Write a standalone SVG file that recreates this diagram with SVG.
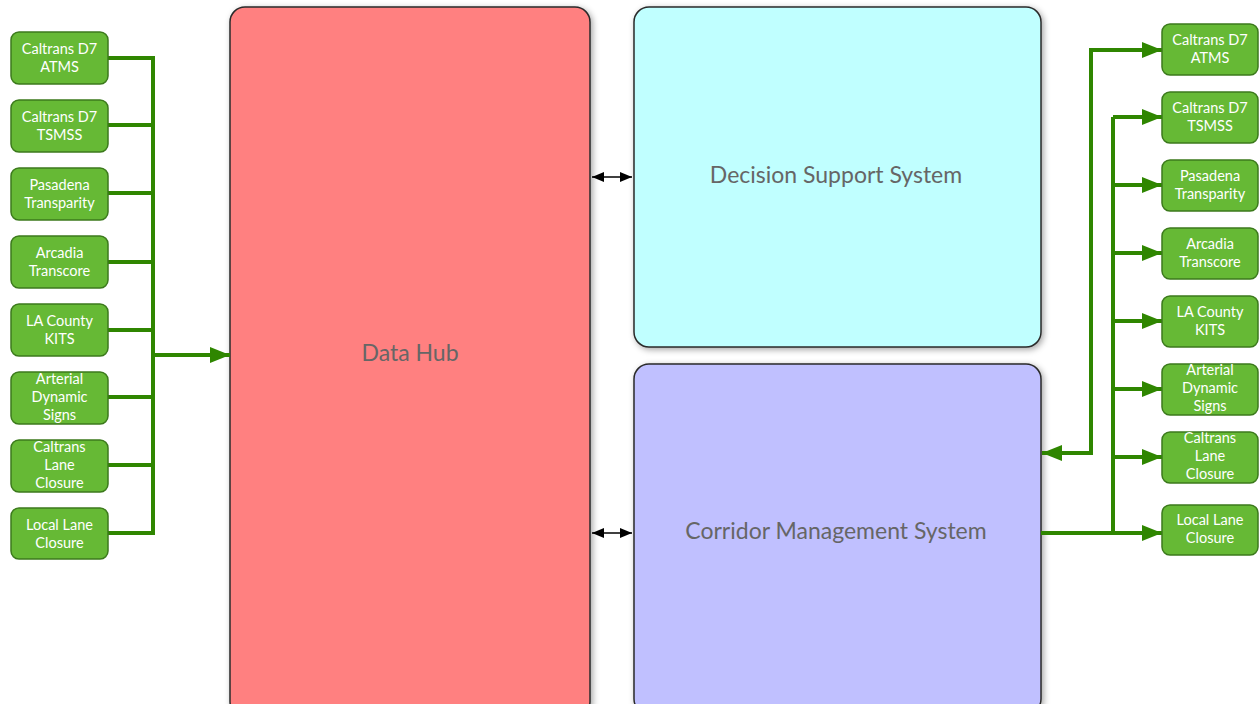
<svg xmlns="http://www.w3.org/2000/svg" width="1259" height="704" viewBox="0 0 1259 704">
  <defs>
    <filter id="shadow" x="-10%" y="-10%" width="120%" height="120%">
      <feDropShadow dx="2" dy="2" stdDeviation="3" flood-color="#000" flood-opacity="0.35"/>
    </filter>
    <marker id="greenHead" markerWidth="20" markerHeight="16" refX="20" refY="8" orient="auto" markerUnits="userSpaceOnUse">
      <path d="M0,0 L20,8 L0,16 z" fill="#2f8600"/>
    </marker>
    <marker id="blackHead" markerWidth="12" markerHeight="10" refX="12" refY="5" orient="auto-start-reverse" markerUnits="userSpaceOnUse">
      <path d="M0,0 L12,5 L0,10 z" fill="#000"/>
    </marker>
    <style>
      .big { stroke: #2a2a2a; stroke-width: 1.5; filter: url(#shadow); }
      .bigText { font-family: "Lato", "Open Sans", sans-serif; font-size: 23px; fill: #666; text-anchor: middle; dominant-baseline: middle; }
      .src rect { fill: #66b935; stroke: #3c7a1c; stroke-width: 1.5; }
      .src text { font-family: "Lato", "Open Sans", sans-serif; font-size: 14.5px; fill: #fff; text-anchor: middle; }
      .wire { fill: none; stroke: #2f8600; stroke-width: 4; }
      .link { fill: none; stroke: #000; stroke-width: 1.5; }
    </style>
  </defs>

  <rect width="1259" height="704" fill="#fff"/>

  <!-- main systems -->
  <g id="data-hub">
    <rect class="big" x="230" y="7" width="360" height="710" rx="15" fill="#ff8080"/>
    <text class="bigText" x="410" y="355">Data Hub</text>
  </g>
  <g id="decision-support">
    <rect class="big" x="634" y="7" width="407" height="340" rx="15" fill="#c0ffff"/>
    <text class="bigText" x="836" y="177">Decision Support System</text>
  </g>
  <g id="corridor-management">
    <rect class="big" x="634" y="364" width="407" height="350" rx="15" fill="#c0c0ff"/>
    <text class="bigText" x="836" y="533">Corridor Management System</text>
  </g>

  <!-- connectors -->
  <g id="connectors">
    <!-- sources feeding the hub -->
    <path class="wire" d="M108,58 H153 M108,125 H153 M108,193 H153 M108,262 H153 M108,330 H153 M108,397 H153 M108,465 H153 M108,533 H153 M153,56 V535"/>
    <path class="wire" d="M153,355 H230" marker-end="url(#greenHead)"/>

    <!-- hub to systems -->
    <path class="link" d="M592,177 H632" marker-start="url(#blackHead)" marker-end="url(#blackHead)"/>
    <path class="link" d="M592,533 H632" marker-start="url(#blackHead)" marker-end="url(#blackHead)"/>

    <!-- CMS outputs -->
    <path class="wire" d="M1041,533 H1162" marker-end="url(#greenHead)"/>
    <path class="wire" d="M1113,535 V117"/>
    <path class="wire" d="M1113,117 H1162" marker-end="url(#greenHead)"/>
    <path class="wire" d="M1113,185 H1162" marker-end="url(#greenHead)"/>
    <path class="wire" d="M1113,253 H1162" marker-end="url(#greenHead)"/>
    <path class="wire" d="M1113,321 H1162" marker-end="url(#greenHead)"/>
    <path class="wire" d="M1113,389 H1162" marker-end="url(#greenHead)"/>
    <path class="wire" d="M1113,457 H1162" marker-end="url(#greenHead)"/>

    <!-- ATMS loop back to CMS -->
    <path class="wire" d="M1162,50 H1091 V453 H1042" marker-end="url(#greenHead)"/>
    <path class="wire" d="M1091,50 H1162" marker-end="url(#greenHead)"/>
  </g>

  <!-- left-side sources -->
  <g id="src-l-atms" class="src"><rect x="11" y="32" width="97" height="52" rx="8"/><text x="59.5" y="54">Caltrans D7</text><text x="59.5" y="72">ATMS</text></g>
  <g id="src-l-tsmss" class="src"><rect x="11" y="100" width="97" height="52" rx="8"/><text x="59.5" y="122">Caltrans D7</text><text x="59.5" y="140">TSMSS</text></g>
  <g id="src-l-pasadena" class="src"><rect x="11" y="168" width="97" height="52" rx="8"/><text x="59.5" y="190">Pasadena</text><text x="59.5" y="208">Transparity</text></g>
  <g id="src-l-arcadia" class="src"><rect x="11" y="236" width="97" height="52" rx="8"/><text x="59.5" y="258">Arcadia</text><text x="59.5" y="276">Transcore</text></g>
  <g id="src-l-lacounty" class="src"><rect x="11" y="304" width="97" height="52" rx="8"/><text x="59.5" y="326">LA County</text><text x="59.5" y="344">KITS</text></g>
  <g id="src-l-arterial" class="src"><rect x="11" y="372" width="97" height="52" rx="8"/><text x="59.5" y="384">Arterial</text><text x="59.5" y="402">Dynamic</text><text x="59.5" y="420">Signs</text></g>
  <g id="src-l-caltrans-lane" class="src"><rect x="11" y="440" width="97" height="52" rx="8"/><text x="59.5" y="452">Caltrans</text><text x="59.5" y="470">Lane</text><text x="59.5" y="488">Closure</text></g>
  <g id="src-l-local-lane" class="src"><rect x="11" y="508" width="97" height="51" rx="8"/><text x="59.5" y="530">Local Lane</text><text x="59.5" y="548">Closure</text></g>

  <!-- right-side targets -->
  <g id="dst-r-atms" class="src"><rect x="1162" y="24" width="96" height="51" rx="8"/><text x="1210" y="45">Caltrans D7</text><text x="1210" y="63">ATMS</text></g>
  <g id="dst-r-tsmss" class="src"><rect x="1162" y="92" width="96" height="51" rx="8"/><text x="1210" y="113">Caltrans D7</text><text x="1210" y="131">TSMSS</text></g>
  <g id="dst-r-pasadena" class="src"><rect x="1162" y="160" width="96" height="51" rx="8"/><text x="1210" y="181">Pasadena</text><text x="1210" y="199">Transparity</text></g>
  <g id="dst-r-arcadia" class="src"><rect x="1162" y="228" width="96" height="51" rx="8"/><text x="1210" y="249">Arcadia</text><text x="1210" y="267">Transcore</text></g>
  <g id="dst-r-lacounty" class="src"><rect x="1162" y="296" width="96" height="51" rx="8"/><text x="1210" y="317">LA County</text><text x="1210" y="335">KITS</text></g>
  <g id="dst-r-arterial" class="src"><rect x="1162" y="364" width="96" height="51" rx="8"/><text x="1210" y="375">Arterial</text><text x="1210" y="393">Dynamic</text><text x="1210" y="411">Signs</text></g>
  <g id="dst-r-caltrans-lane" class="src"><rect x="1162" y="432" width="96" height="51" rx="8"/><text x="1210" y="443">Caltrans</text><text x="1210" y="461">Lane</text><text x="1210" y="479">Closure</text></g>
  <g id="dst-r-local-lane" class="src"><rect x="1162" y="505" width="96" height="50" rx="8"/><text x="1210" y="525">Local Lane</text><text x="1210" y="543">Closure</text></g>
</svg>
